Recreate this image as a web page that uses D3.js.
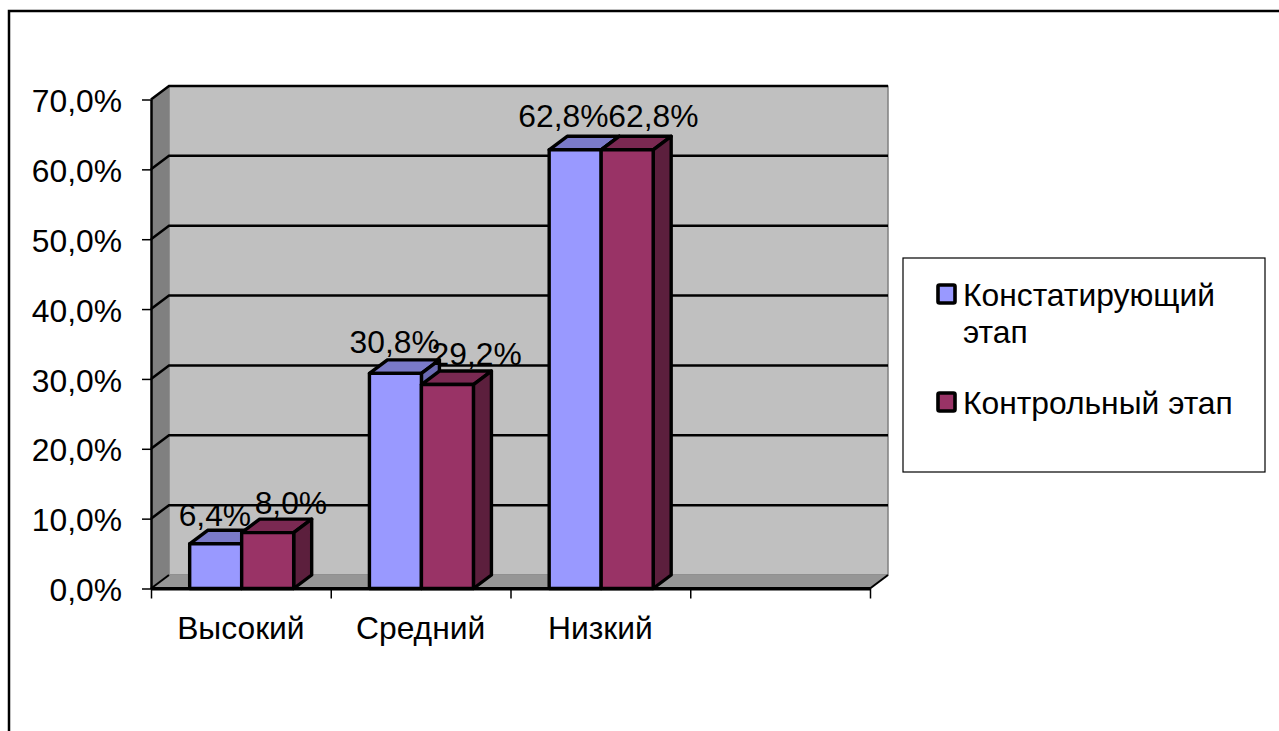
<!DOCTYPE html>
<html><head><meta charset="utf-8">
<script src="https://d3js.org/d3.v7.min.js"></script>
<style>html,body{margin:0;padding:0;background:#fff;overflow:hidden}svg{display:block}text{font-family:"Liberation Sans",Arial,sans-serif;fill:#000}</style>
</head><body><svg id="c" width="1279" height="731"></svg>
<script>
const categories = ["Высокий","Средний","Низкий",""];
const seriesNames = ["Констатирующий","Контрольный этап"];
const konstat = [6.4,30.8,62.8];
const kontrol = [8.0,29.2,62.8];
const konstatLabels = ["6,4%","30,8%","62,8%"];
const kontrolLabels = ["8,0%","29,2%","62,8%"];
const yTicks = [0,10,20,30,40,50,60,70];

const FS = 31.8;
const svg = d3.select("#c");
const x0=151,x1=870,y0=588.5,yTop=99.5,dx=18,dy=-13.5;
const x = d3.scaleBand().domain(categories).range([x0,x1]);
const y = d3.scaleLinear().domain([0,70]).range([y0,yTop]);
const barW = 52;
const barShift = 0.8;
const seriesStyle=[
 {front:"#9999FF",top:"#7A7AC8",side:"#6B6BB3",vals:konstat,labels:konstatLabels,ox:[0,0,-11],oy:[-18,-20,-23]},
 {front:"#993366",top:"#7A2952",side:"#5C1F3D",vals:kontrol,labels:kontrolLabels,ox:[24,30,27],oy:[-19,-20,-23]}
];
const poly=(pts,fill,sw=3.4,stroke="#000")=>svg.append("polygon").attr("points",pts.map(p=>p.join(",")).join(" ")).attr("fill",fill).attr("stroke",stroke).attr("stroke-width",sw).attr("stroke-linejoin","round");

// outer frame
svg.append("path").attr("d","M9,731V11H1279").attr("fill","none").attr("stroke","#000").attr("stroke-width",2.5);

// walls
const top3=y(70);
poly([[x0+dx,top3+dy],[x1+dx,top3+dy],[x1+dx,y0+dy],[x0+dx,y0+dy]],"#C0C0C0",1.5,"#808080");
poly([[x0,top3],[x0+dx,top3+dy],[x0+dx,y0+dy],[x0,y0]],"#808080",0);
poly([[x0,y0],[x0+dx,y0+dy],[x1+dx,y0+dy],[x1,y0]],"#969696",0);

// gridlines
yTicks.forEach(t=>{
  if(t===0)return;
  svg.append("path").attr("d",`M${x0},${y(t)}L${x0+dx},${y(t)+dy}H${x1+dx}`).attr("fill","none").attr("stroke","#000").attr("stroke-width",2.5);
});
svg.append("path").attr("d",`M${x0},${y0}L${x0+dx},${y0+dy}`).attr("stroke","#000").attr("stroke-width",2);
svg.append("path").attr("d",`M${x1},${y0}L${x1+dx},${y0+dy}`).attr("stroke","#000").attr("stroke-width",2);

// axes
const ay=svg.append("g").attr("transform",`translate(${x0},0)`).call(d3.axisLeft(y).tickValues(yTicks).tickSize(9).tickSizeOuter(0).tickPadding(20).tickFormat(d=>d3.format(".1f")(d).replace(".",",")+"%"));
ay.select(".domain").attr("stroke","#000").attr("stroke-width",2.5);
ay.selectAll("line").attr("stroke","#000").attr("stroke-width",1.5);
ay.selectAll("text").attr("font-size",FS).attr("font-family",'"Liberation Sans"').attr("dy","0.38em");
const edges=d3.scaleLinear().domain([0,categories.length]).range([x0,x1]);
const ax=svg.append("g").attr("transform",`translate(0,${y0})`).call(d3.axisBottom(edges).ticks(categories.length).tickSize(10).tickSizeOuter(0).tickFormat(""));
ax.select(".domain").attr("stroke","#000").attr("stroke-width",3);
ax.selectAll("line").attr("stroke","#000").attr("stroke-width",1.5);

// bars
const cats3=categories.slice(0,3);
cats3.forEach((c,i)=>{
  const start=x(c)+(x.bandwidth()-2*barW)/2+barShift;
  seriesStyle.forEach((s,k)=>{
    const l=start+k*barW,r=l+barW,t=y(s.vals[i]);
    poly([[l,t],[l+dx,t+dy],[r+dx,t+dy],[r,t]],s.top);
    poly([[r,t],[r+dx,t+dy],[r+dx,y0+dy],[r,y0]],s.side);
    poly([[l,t],[r,t],[r,y0],[l,y0]],s.front);
  });
});
cats3.forEach((c,i)=>{
  const start=x(c)+(x.bandwidth()-2*barW)/2;
  seriesStyle.forEach((s,k)=>{
    svg.append("text").attr("x",start+k*barW+barW/2+s.ox[i]).attr("y",y(s.vals[i])+s.oy[i]).attr("text-anchor","middle").attr("font-size",FS).text(s.labels[i]);
  });
});
// redraw floor line on top
svg.append("path").attr("d",`M${x0},${y0}H${x1}`).attr("stroke","#000").attr("stroke-width",3);

// category labels
cats3.forEach(c=>svg.append("text").attr("x",x(c)+x.bandwidth()/2).attr("y",639).attr("text-anchor","middle").attr("font-size",FS).text(c));

// legend
svg.append("rect").attr("x",903).attr("y",258).attr("width",362).attr("height",214).attr("fill","#fff").attr("stroke","#000").attr("stroke-width",1.2);
svg.append("rect").attr("x",938).attr("y",285).attr("width",17).attr("height",18).attr("rx",1.5).attr("fill",seriesStyle[0].front).attr("stroke","#000").attr("stroke-width",3.6);
svg.append("rect").attr("x",938).attr("y",393).attr("width",17).attr("height",18).attr("rx",1.5).attr("fill",seriesStyle[1].front).attr("stroke","#000").attr("stroke-width",3.6);
svg.append("text").attr("x",963).attr("y",306).attr("font-size",FS).text(seriesNames[0]);
svg.append("text").attr("x",963).attr("y",343).attr("font-size",FS).text("этап");
svg.append("text").attr("x",963).attr("y",414).attr("font-size",FS).text(seriesNames[1]);
</script></body></html>
